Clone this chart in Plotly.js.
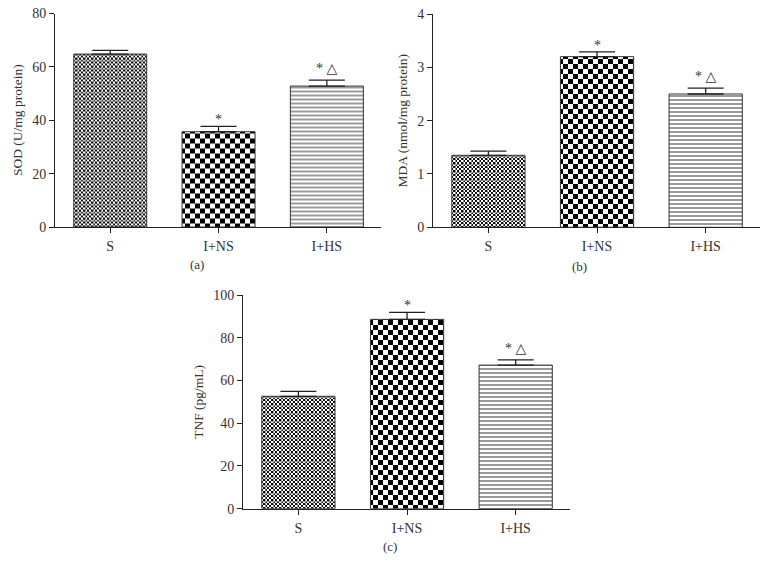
<!DOCTYPE html>
<html><head><meta charset="utf-8">
<script src="https://cdn.plot.ly/plotly-3.0.1.min.js"></script>
<style>html,body{margin:0;padding:0;background:#fff}#chart{width:770px;height:565px}</style>
</head><body><div id="chart"></div>
<script>
// ---- data ----
const groups = ['S', 'I+NS', 'I+HS'];
const sodMean = [64.8, 35.7, 52.8];
const sodErr  = [1.4, 2.0, 2.2];
const mdaMean = [1.35, 3.20, 2.50];
const mdaErr  = [0.08, 0.09, 0.11];
const tnfMean = [52.6, 88.6, 67.2];
const tnfErr  = [2.3, 3.3, 2.4];
const sigMarks = ['', '*', '* △'];
const yTitles = ['SOD (U/mg protein)', 'MDA (nmol/mg protein)', 'TNF (pg/mL)'];
const panelLabels = ['(a)', '(b)', '(c)'];
const yRanges = [[0, 80], [0, 4], [0, 100]];
const yDticks = [20, 1, 20];

const SERIF = '"Liberation Serif", "DejaVu Serif", serif';
const TXT = '#333';

const means = [sodMean, mdaMean, tnfMean];
const errs = [sodErr, mdaErr, tnfErr];
const suffix = ['', '2', '3'];

// unique marker colours so the custom checker fills can find their patterns
const FINE_FG = '#010203';
const COARSE_FG = '#030201';

const traces = means.map((m, k) => ({
  type: 'bar',
  x: groups,
  y: m,
  xaxis: 'x' + suffix[k],
  yaxis: 'y' + suffix[k],
  marker: {
    color: '#ffffff',
    line: {color: '#333', width: 1},
    pattern: {
      shape: ['+', '+', '-'],
      size: [8, 10, 4],
      solidity: [0.5, 0.5, 0.3],
      fgcolor: [FINE_FG, COARSE_FG, '#555555'],
      bgcolor: '#ffffff',
      fillmode: 'replace'
    }
  },
  error_y: {
    type: 'data', array: errs[k], symmetric: false, arrayminus: [0, 0, 0],
    width: 18, thickness: 1.3, color: '#222'
  },
  showlegend: false,
  hoverinfo: 'skip'
}));

const xDomains = [[55/770, 381/770], [433/770, 760/770], [243/770, 570/770]];
const yDomains = [[1 - 227/565, 1 - 13.5/565], [1 - 227.3/565, 1 - 14/565], [1 - 508.7/565, 1 - 295/565]];

const layout = {
  width: 770, height: 565,
  margin: {l: 0, r: 0, t: 0, b: 0},
  paper_bgcolor: '#fff', plot_bgcolor: '#fff',
  bargap: 0.326,
  font: {family: SERIF, size: 14, color: TXT},
  annotations: []
};

for (let k = 0; k < 3; k++) {
  layout['xaxis' + suffix[k]] = {
    domain: xDomains[k], anchor: 'y' + suffix[k],
    type: 'category', range: [-0.51, 2.5],
    showline: true, linecolor: '#222', linewidth: 1,
    ticks: 'outside', ticklen: 5, tickcolor: '#222', tickwidth: 1,
    ticklabelstandoff: 1,
    showgrid: false, zeroline: false,
    tickfont: {family: SERIF, size: 14, color: TXT}
  };
  layout['yaxis' + suffix[k]] = {
    domain: yDomains[k], anchor: 'x' + suffix[k],
    range: yRanges[k], dtick: yDticks[k], tick0: 0,
    showline: true, linecolor: '#222', linewidth: 1,
    ticks: 'outside', ticklen: 5, tickcolor: '#222', tickwidth: 1,
    showgrid: false, zeroline: false,
    tickfont: {family: SERIF, size: 14, color: TXT},
    title: {text: yTitles[k], font: {family: SERIF, size: 13.5, color: TXT}, standoff: 6}
  };

  for (let i = 0; i < groups.length; i++) {
    if (!sigMarks[i]) continue;
    const hasTri = sigMarks[i].indexOf('△') >= 0;
    layout.annotations.push({
      xref: 'x' + suffix[k], yref: 'y' + suffix[k],
      x: groups[i], y: means[k][i] + errs[k][i],
      text: sigMarks[i], showarrow: false,
      yanchor: 'bottom', yshift: hasTri ? 2 : -3,
      font: {family: SERIF, size: 14, color: TXT}
    });
  }
}

const labelPos = [[197, 264], [579, 266], [390, 546]];
labelPos.forEach((p, k) => {
  layout.annotations.push({
    xref: 'paper', yref: 'paper', x: p[0] / 770, y: 1 - p[1] / 565,
    xanchor: 'center', yanchor: 'middle', showarrow: false,
    text: panelLabels[k], font: {family: SERIF, size: 13, color: TXT}
  });
});

function hasColour(el, hex) {
  const h = el.outerHTML.toLowerCase();
  const r = parseInt(hex.slice(1, 3), 16), g = parseInt(hex.slice(3, 5), 16), b = parseInt(hex.slice(5, 7), 16);
  return h.indexOf(hex.slice(1)) >= 0 ||
         h.indexOf('rgb(' + r + ', ' + g + ', ' + b + ')') >= 0 ||
         h.indexOf('rgb(' + r + ',' + g + ',' + b + ')') >= 0;
}

function fixPatterns() {
  const NS = 'http://www.w3.org/2000/svg';
  const pats = document.getElementsByTagNameNS(NS, 'pattern');
  Array.prototype.forEach.call(pats, p => {
    if (p.getAttribute('data-custom')) return;
    let kind = null;
    if (hasColour(p, FINE_FG)) kind = 'fine';
    else if (hasColour(p, COARSE_FG)) kind = 'coarse';
    if (!kind) return;
    while (p.firstChild) p.removeChild(p.firstChild);
    p.setAttribute('data-custom', '1');
    p.removeAttribute('patternTransform');
    p.removeAttribute('viewBox');
    const add = (x, y, w, h, c) => {
      const r = document.createElementNS(NS, 'rect');
      r.setAttribute('x', x); r.setAttribute('y', y);
      r.setAttribute('width', w); r.setAttribute('height', h);
      r.setAttribute('fill', c);
      r.setAttribute('shape-rendering', 'crispEdges');
      p.appendChild(r);
    };
    if (kind === 'fine') {
      const S = 8, c = 2;
      add(0, 0, S, S, '#fff');
      for (let i = 0; i < 4; i++) for (let j = 0; j < 4; j++)
        if ((i + j) % 2 === 0) add(i * c, j * c, c, c, '#111');
      add(6, 0, 1, S, '#8a8a8a');
      add(0, 6, S, 1, '#8a8a8a');
      p.setAttribute('width', S); p.setAttribute('height', S);
    } else {
      const S = 10, c = 5;
      add(0, 0, S, S, '#fff');
      add(0, 0, c, c, '#000');
      add(c, c, c, c, '#000');
      p.setAttribute('width', S); p.setAttribute('height', S);
    }
  });
}

const gd = document.getElementById('chart');
Plotly.newPlot(gd, traces, layout, {staticPlot: true}).then(() => {
  fixPatterns();
  setTimeout(fixPatterns, 50);
  setTimeout(fixPatterns, 300);
});
gd.on && gd.on('plotly_afterplot', fixPatterns);
</script>
</body></html>
